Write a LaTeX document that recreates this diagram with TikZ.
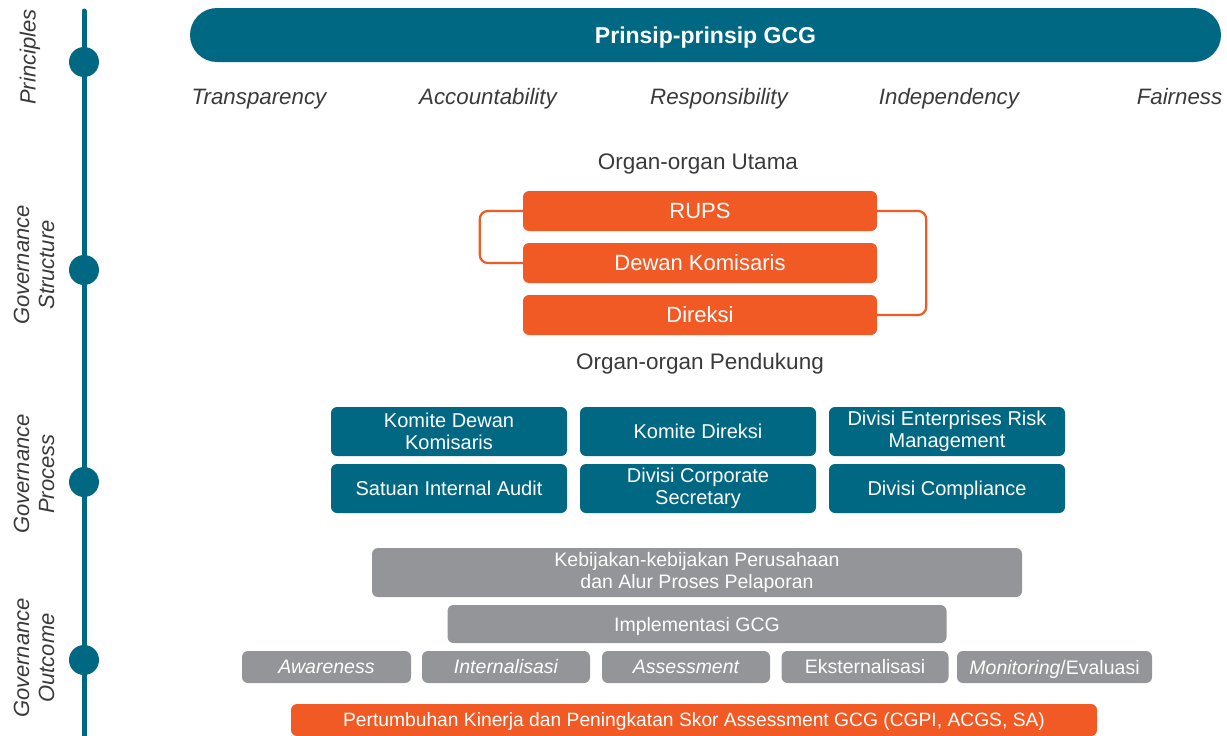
\documentclass[tikz,border=0pt]{standalone}
\usepackage{fontspec}
\setmainfont{Liberation Sans}
\definecolor{teal}{HTML}{006883}
\definecolor{orng}{HTML}{F15A24}
\definecolor{gry}{HTML}{939598}
\definecolor{txt}{HTML}{3A3A3A}
\tikzset{
  lbl/.style={text=txt,font=\fontsize{22}{25}\selectfont\itshape,rotate=90,align=center},
  prin/.style={text=txt,font=\fontsize{22.3}{25}\selectfont\itshape,anchor=base},
  head/.style={text=txt,font=\fontsize{22.5}{25}\selectfont},
  capc/.style={text height=#1,text depth=0pt},
  obox/.style={fill=orng,rounded corners=6pt,text=white,font=\fontsize{22}{25}\selectfont,minimum width=354pt,minimum height=40pt,inner sep=0pt},
  tbox/.style={fill=teal,rounded corners=6pt,text=white,font=\fontsize{20}{21.5}\selectfont,minimum width=236pt,minimum height=49pt,inner sep=0pt,align=center},
  gbox/.style={fill=gry,rounded corners=6pt,text=white,font=\fontsize{19.5}{21.5}\selectfont,inner sep=0pt,align=center},
  conn/.style={draw=orng,line width=2.2pt,rounded corners=8pt},
  dot/.style={circle,fill=teal,minimum size=30pt,inner sep=0pt},
}
\begin{document}
\begin{tikzpicture}[x=1pt,y=-1pt]
\useasboundingbox (0,0) rectangle (1227,736);
% axis
\draw[teal,line width=5pt,line cap=round] (84,11) -- (84,740);
\node[dot] (d1) at (84,62) {};
\node[dot] (d2) at (84,270) {};
\node[dot] (d3) at (84,482) {};
\node[dot] (d4) at (84,660) {};
\node[lbl] (l1) at (30,57) {Principles};
\node[lbl] (l2) at (34,265) {Governance\\Structure};
\node[lbl] (l3) at (34,474) {Governance\\Process};
\node[lbl] (l4) at (34,658) {Governance\\Outcome};
% banner
\node[fill=teal,rounded corners=27pt,minimum width=1031pt,minimum height=54pt,inner sep=0pt,text=white,font=\fontsize{23}{26}\selectfont\bfseries,capc=16.5pt] (ban) at (705.5,35) {Prinsip-prinsip GCG};
\node[prin] (p1) at (259,104) {Transparency};
\node[prin] (p2) at (488,104) {Accountability};
\node[prin] (p3) at (719,104) {Responsibility};
\node[prin] (p4) at (949,104) {Independency};
\node[prin] (p5) at (1179.5,104) {Fairness};
% main organs
\node[head] (hu) at (698,164) {Organ-organ Utama};
\node[obox] (rups) at (700,211) {RUPS};
\node[obox] (dk) at (700,263) {Dewan Komisaris};
\node[obox] (dir) at (700,315) {Direksi};
\draw[conn] (rups.west) -- ++(-43,0) |- (dk.west);
\draw[conn] (rups.east) -- ++(49,0) |- (dir.east);
\node[head] (hp) at (700,364) {Organ-organ Pendukung};
% supporting organs
\node[tbox] (t1) at (449,431.5) {Komite Dewan\\Komisaris};
\node[tbox] (t2) at (698,431.5) {Komite Direksi};
\node[tbox] (t3) at (947,431.5) {Divisi Enterprises Risk\\Management};
\node[tbox] (t4) at (449,488.5) {Satuan Internal Audit};
\node[tbox] (t5) at (698,488.5) {Divisi Corporate\\Secretary};
\node[tbox,capc=14.3pt] (t6) at (947,488.5) {Divisi Compliance};
% outcome
\node[gbox,minimum width=650pt,minimum height=49pt] (k1) at (697,572.5) {Kebijakan-kebijakan Perusahaan\\dan Alur Proses Pelaporan};
\node[gbox,capc=14pt,minimum width=499pt,minimum height=38pt] (k2) at (697,624) {Implementasi GCG};
\node[gbox,minimum width=169pt,minimum height=32pt] (s1) at (326.5,667) {\itshape Awareness};
\node[gbox,minimum width=168pt,minimum height=32pt] (s2) at (506,667) {\itshape Internalisasi};
\node[gbox,minimum width=168pt,minimum height=32pt] (s3) at (686,667) {\itshape Assessment};
\node[gbox,minimum width=167pt,minimum height=32pt] (s4) at (865,667) {Eksternalisasi};
\node[gbox,capc=14pt,minimum width=195pt,minimum height=32pt] (s5) at (1054.5,667) {\textit{Monitoring}/Evaluasi};
\node[fill=orng,rounded corners=6pt,text=white,font=\fontsize{19.25}{22}\selectfont,capc=13.8pt,minimum width=806pt,minimum height=32pt,inner sep=0pt] (res) at (694,720) {Pertumbuhan Kinerja dan Peningkatan Skor Assessment GCG (CGPI, ACGS, SA)};
\end{tikzpicture}
\end{document}
